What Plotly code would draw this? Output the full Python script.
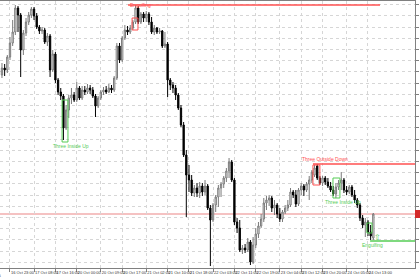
import plotly.graph_objects as go

# ---------------- data (hourly bars) ----------------
bars = list(range(140))

opens = [1.3425,1.3432,1.3430,1.3443,1.3457,1.3468,1.3492,1.3485,1.3450,1.3467,
         1.3478,1.3485,1.3491,1.3484,1.3473,1.3469,1.3470,1.3458,1.3464,1.3430,
         1.3446,1.3420,1.3408,1.3404,1.3372,1.3390,1.3402,1.3405,1.3400,1.3412,
         1.3402,1.3410,1.3408,1.3412,1.3410,1.3404,1.3394,1.3402,1.3408,1.3410,
         1.3408,1.3412,1.3410,1.3422,1.3454,1.3440,1.3462,1.3470,1.3468,1.3472,
         1.3478,1.3492,1.3478,1.3486,1.3482,1.3486,1.3478,1.3468,1.3472,1.3468,
         1.3469,1.3454,1.3456,1.3420,1.3415,1.3412,1.3405,1.3392,1.3375,1.3345,
         1.3325,1.3320,1.3307,1.3312,1.3307,1.3314,1.3308,1.3314,1.3292,1.3280,
         1.3295,1.3303,1.3312,1.3316,1.3322,1.3329,1.3338,1.3320,1.3278,1.3272,
         1.3250,1.3252,1.3250,1.3258,1.3238,1.3255,1.3266,1.3274,1.3281,1.3297,
         1.3300,1.3302,1.3292,1.3295,1.3286,1.3281,1.3288,1.3292,1.3295,1.3308,
         1.3305,1.3296,1.3310,1.3314,1.3310,1.3316,1.3320,1.3325,1.3334,1.3322,
         1.3317,1.3322,1.3318,1.3314,1.3310,1.3306,1.3313,1.3317,1.3320,1.3310,
         1.3308,1.3313,1.3305,1.3300,1.3295,1.3282,1.3275,1.3278,1.3268,1.3262]

highs = [1.3437,1.3436,1.3445,1.3463,1.3480,1.3495,1.3494,1.3487,1.3470,1.3482,
         1.3488,1.3493,1.3493,1.3487,1.3475,1.3473,1.3472,1.3467,1.3466,1.3450,
         1.3448,1.3422,1.3412,1.3406,1.3395,1.3405,1.3412,1.3408,1.3418,1.3414,
         1.3414,1.3414,1.3416,1.3415,1.3413,1.3406,1.3404,1.3410,1.3413,1.3414,
         1.3416,1.3415,1.3424,1.3457,1.3457,1.3464,1.3475,1.3474,1.3475,1.3480,
         1.3495,1.3494,1.3488,1.3488,1.3489,1.3488,1.3483,1.3475,1.3473,1.3472,
         1.3470,1.3468,1.3458,1.3422,1.3418,1.3415,1.3407,1.3395,1.3378,1.3350,
         1.3335,1.3325,1.3315,1.3317,1.3318,1.3317,1.3320,1.3316,1.3295,1.3297,
         1.3305,1.3315,1.3318,1.3324,1.3332,1.3342,1.3340,1.3322,1.3282,1.3280,
         1.3255,1.3256,1.3262,1.3260,1.3263,1.3272,1.3278,1.3286,1.3302,1.3304,
         1.3305,1.3304,1.3300,1.3297,1.3292,1.3290,1.3295,1.3300,1.3312,1.3310,
         1.3310,1.3312,1.3317,1.3316,1.3318,1.3324,1.3330,1.3335,1.3336,1.3324,
         1.3324,1.3324,1.3322,1.3318,1.3314,1.3317,1.3320,1.3328,1.3322,1.3314,
         1.3315,1.3315,1.3310,1.3302,1.3297,1.3285,1.3282,1.3280,1.3275,1.3287]

lows = [1.3422,1.3424,1.3427,1.3440,1.3454,1.3465,1.3468,1.3423,1.3445,1.3464,
        1.3475,1.3482,1.3480,1.3471,1.3466,1.3466,1.3456,1.3454,1.3423,1.3428,
        1.3417,1.3405,1.3400,1.3360,1.3370,1.3382,1.3396,1.3398,1.3398,1.3400,
        1.3400,1.3405,1.3406,1.3406,1.3402,1.3383,1.3392,1.3400,1.3405,1.3406,
        1.3407,1.3407,1.3408,1.3420,1.3437,1.3438,1.3460,1.3465,1.3466,1.3470,
        1.3476,1.3476,1.3476,1.3478,1.3478,1.3475,1.3466,1.3465,1.3466,1.3466,
        1.3452,1.3452,1.3403,1.3410,1.3407,1.3400,1.3390,1.3373,1.3343,1.3283,
        1.3308,1.3304,1.3303,1.3303,1.3302,1.3304,1.3305,1.3290,1.3234,1.3278,
        1.3288,1.3293,1.3303,1.3312,1.3318,1.3322,1.3318,1.3275,1.3267,1.3248,
        1.3246,1.3247,1.3248,1.3235,1.3236,1.3252,1.3262,1.3272,1.3278,1.3290,
        1.3294,1.3288,1.3285,1.3282,1.3278,1.3278,1.3286,1.3289,1.3293,1.3302,
        1.3293,1.3294,1.3305,1.3304,1.3308,1.3300,1.3317,1.3323,1.3320,1.3315,
        1.3314,1.3315,1.3312,1.3308,1.3304,1.3302,1.3310,1.3310,1.3307,1.3305,
        1.3306,1.3303,1.3297,1.3292,1.3279,1.3272,1.3263,1.3264,1.3260,1.3260]

closes = [1.3432,1.3430,1.3443,1.3457,1.3468,1.3492,1.3485,1.3450,1.3467,1.3478,
          1.3485,1.3491,1.3484,1.3473,1.3469,1.3470,1.3458,1.3464,1.3430,1.3446,
          1.3420,1.3408,1.3404,1.3372,1.3390,1.3402,1.3405,1.3400,1.3412,1.3402,
          1.3410,1.3408,1.3412,1.3410,1.3404,1.3394,1.3402,1.3408,1.3410,1.3408,
          1.3412,1.3410,1.3422,1.3454,1.3440,1.3462,1.3470,1.3468,1.3472,1.3478,
          1.3492,1.3478,1.3486,1.3482,1.3486,1.3478,1.3468,1.3472,1.3468,1.3469,
          1.3454,1.3456,1.3420,1.3415,1.3412,1.3405,1.3392,1.3375,1.3345,1.3325,
          1.3320,1.3307,1.3312,1.3307,1.3314,1.3308,1.3314,1.3292,1.3280,1.3295,
          1.3303,1.3312,1.3316,1.3322,1.3329,1.3338,1.3320,1.3278,1.3272,1.3250,
          1.3252,1.3250,1.3258,1.3238,1.3255,1.3266,1.3274,1.3281,1.3297,1.3300,
          1.3302,1.3292,1.3295,1.3286,1.3281,1.3288,1.3292,1.3295,1.3308,1.3305,
          1.3296,1.3310,1.3314,1.3310,1.3316,1.3320,1.3328,1.3332,1.3322,1.3317,
          1.3322,1.3318,1.3314,1.3310,1.3306,1.3313,1.3317,1.3320,1.3310,1.3308,
          1.3313,1.3305,1.3300,1.3295,1.3282,1.3275,1.3278,1.3268,1.3264,1.3286]

tick_bars = [3, 12, 20, 28, 37, 45, 54, 62, 70, 79, 87, 95, 104, 112, 120, 129, 137]
tick_labels = ["16 Oct 23:00", "17 Oct 08:00", "17 Oct 16:00", "20 Oct 00:00",
               "20 Oct 09:00", "20 Oct 17:00", "21 Oct 02:00", "21 Oct 10:00",
               "21 Oct 18:00", "22 Oct 03:00", "22 Oct 11:00", "22 Oct 19:00",
               "23 Oct 04:00", "23 Oct 12:00", "23 Oct 20:00", "24 Oct 05:00",
               "24 Oct 13:00"]
first_date_label = "16 Oct 2025"

# candlestick pattern markers: box (bar range, price range), level line, label
RED = "#ff5050"
GREEN = "#55cc55"
patterns = [
    dict(name="Engulfing", color=RED, b0=48.7, b1=50.9, top=1.3482, bot=1.3470,
         level=1.3495, l0=47.2, l1=141.5, lx=47.2, ly=1.3495, anchor="left", va="middle"),
    dict(name="Three Inside Up", color=GREEN, b0=22.5, b1=24.7, top=1.3400, bot=1.3358,
         level=None, lx=25.8, ly=1.33545, anchor="center", va="middle"),
    dict(name="Three Outside Down", color=RED, b0=116.4, b1=119.0, top=1.3335, bot=1.3315,
         level=1.3336, l0=116.4, l1=160, lx=111.5, ly=1.3336, anchor="left", va="bottom"),
    dict(name="Three Inside Up", color=GREEN, b0=123.9, b1=126.5, top=1.3322, bot=1.3302,
         level=None, lx=127.8, ly=1.32985, anchor="center", va="middle"),
    dict(name="Engulfing", color=GREEN, b0=136.6, b1=138.5, top=1.3277, bot=1.3267,
         level=1.3259, l0=137.8, l1=160, lx=138.7, ly=1.3255, anchor="center", va="middle"),
]
arrow = dict(text="⇧", bar=140.7, price=1.3264, color=GREEN)
bid_price = closes[-1]

# ---------------- figure ----------------
fig = go.Figure()
fig.add_trace(go.Candlestick(
    x=bars, open=opens, high=highs, low=lows, close=closes,
    increasing=dict(line=dict(color="#7a7a7a", width=1), fillcolor="#ffffff"),
    decreasing=dict(line=dict(color="#000000", width=1), fillcolor="#000000"),
    whiskerwidth=0, showlegend=False, hoverinfo="skip"))

shapes = []
annotations = []
# bid line
shapes.append(dict(type="line", xref="paper", yref="y", x0=0, x1=1, y0=bid_price, y1=bid_price,
                   line=dict(color="#f5c2c2", width=2), layer="below"))
shapes.append(dict(type="rect", xref="paper", yref="y", x0=1.0, x1=1.02,
                   y0=bid_price - 0.0004, y1=bid_price + 0.0004,
                   line=dict(width=0), fillcolor="#d42a2a"))
for p in patterns:
    shapes.append(dict(type="rect", xref="x", yref="y", x0=p["b0"], x1=p["b1"],
                       y0=p["bot"], y1=p["top"], line=dict(color=p["color"], width=1)))
    if p["level"] is not None:
        shapes.append(dict(type="line", xref="x", yref="y", x0=p["l0"], x1=p["l1"],
                           y0=p["level"], y1=p["level"], line=dict(color=p["color"], width=1.5)))
    annotations.append(dict(x=p["lx"], y=p["ly"], xref="x", yref="y", text=p["name"],
                            showarrow=False, xanchor=p["anchor"], yanchor=p["va"],
                            font=dict(size=5, color=p["color"], family="Liberation Sans")))
annotations.append(dict(x=arrow["bar"], y=arrow["price"], xref="x", yref="y", text=arrow["text"],
                        showarrow=False, font=dict(size=8, color=arrow["color"])))
annotations.append(dict(x=0.8, y=0, xref="x", yref="paper", text=first_date_label,
                        showarrow=False, xanchor="right", yanchor="top", yshift=-3,
                        font=dict(size=4, color="#333333", family="Liberation Sans")))

fig.update_layout(
    width=420, height=280,
    margin=dict(l=0, r=5, t=1, b=12, autoexpand=False),
    paper_bgcolor="#ffffff", plot_bgcolor="#ffffff",
    shapes=shapes, annotations=annotations,
    xaxis=dict(range=[-0.74, 154.6], rangeslider=dict(visible=False),
               tickmode="array", tickvals=tick_bars, ticktext=tick_labels,
               ticklabelposition="outside right", tickangle=0, automargin=False,
               tickfont=dict(size=4, color="#333333", family="Liberation Sans"),
               ticks="outside", ticklen=3, tickcolor="#808080",
               showline=True, linecolor="#808080", linewidth=1, mirror=True,
               showgrid=True, gridcolor="#d6d6d6", griddash="dot", gridwidth=1,
               zeroline=False, fixedrange=True),
    yaxis=dict(range=[1.3232, 1.3499], side="right", automargin=False,
               tick0=1.34953, dtick=0.00112, tickformat=".5f",
               tickfont=dict(size=5, color="#333333", family="Liberation Sans"),
               ticks="outside", ticklen=3, tickcolor="#808080",
               showline=True, linecolor="#808080", linewidth=1,
               showgrid=True, gridcolor="#d6d6d6", griddash="dot", gridwidth=1,
               zeroline=False, fixedrange=True),
)

fig.write_html("out.html")
